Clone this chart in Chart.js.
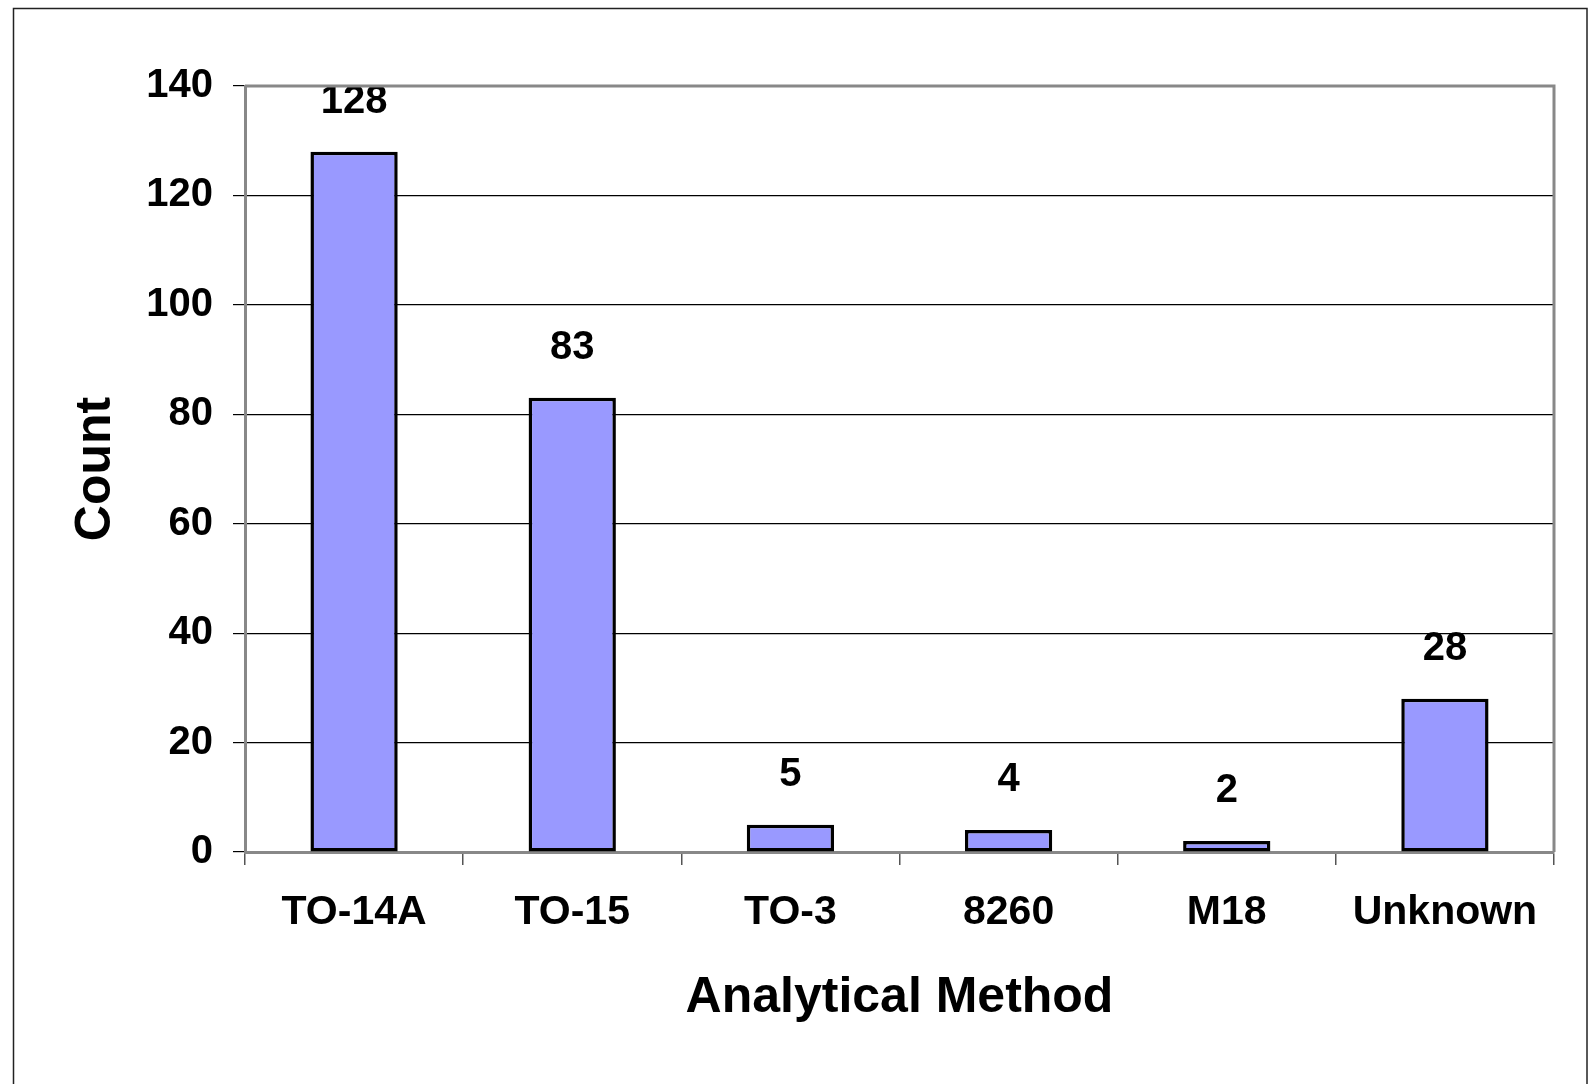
<!DOCTYPE html>
<html>
<head>
<meta charset="utf-8">
<script src="https://cdn.jsdelivr.net/npm/chart.js@4"></script>
<style>
  body { margin: 0; background: #fff; }
  canvas { display: block; }
</style>
</head>
<body>
<canvas id="methods" width="1588" height="1084"></canvas>
<script>
var methods = ["TO-14A", "TO-15", "TO-3", "8260", "M18", "Unknown"];
var counts = [128, 83, 5, 4, 2, 28];
var yTicks = [0, 20, 40, 60, 80, 100, 120, 140];

var FONT = "'Liberation Sans', Arial, sans-serif";

// value labels above each bar
var barLabels = {
  id: "barLabels",
  afterDatasetsDraw: function (chart) {
    var c = chart.ctx;
    var meta = chart.getDatasetMeta(0);
    c.save();
    c.font = "bold 40px " + FONT;
    c.fillStyle = "#000";
    c.textAlign = "center";
    c.textBaseline = "middle";
    meta.data.forEach(function (bar, i) {
      c.fillText(String(counts[i]), bar.x, bar.y - 50);
    });
    c.restore();
  }
};

// gray top/right plot border and outer frame
var frame = {
  id: "frame",
  afterDraw: function (chart) {
    var c = chart.ctx;
    var a = chart.chartArea;
    c.save();
    c.strokeStyle = "#888";
    c.lineWidth = 3;
    c.beginPath();
    c.moveTo(a.left, a.top);
    c.lineTo(a.right, a.top);
    c.lineTo(a.right, a.bottom);
    c.stroke();
    c.strokeStyle = "#222";
    c.lineWidth = 1.5;
    c.strokeRect(13.5, 8.5, 1573.5, 1090);
    c.restore();
  }
};

new Chart(document.getElementById("methods"), {
  type: "bar",
  data: {
    labels: methods,
    datasets: [{
      data: counts,
      backgroundColor: "#9999FF",
      borderColor: "#000",
      borderWidth: 3.5,
      borderSkipped: false,
      categoryPercentage: 1.0,
      barPercentage: 0.4
    }]
  },
  options: {
    responsive: false,
    animation: false,
    layout: { padding: { top: 86, right: 34, left: 0, bottom: 0 } },
    plugins: {
      legend: { display: false },
      tooltip: { enabled: false }
    },
    scales: {
      x: {
        offset: true,
        afterFit: function (scale) { scale.height = 232; },
        grid: {
          offset: true,
          drawOnChartArea: false,
          drawTicks: true,
          tickLength: 13,
          color: "#555",
          lineWidth: 1.5
        },
        border: { color: "#888", width: 3 },
        ticks: {
          color: "#000",
          padding: 23,
          maxRotation: 0,
          font: { family: FONT, size: 41, weight: "bold" }
        },
        title: {
          display: true,
          text: "Analytical Method",
          color: "#000",
          padding: { top: 0, bottom: 56 },
          font: { family: FONT, size: 50, weight: "bold" }
        }
      },
      y: {
        min: 0,
        max: 140,
        afterFit: function (scale) { scale.width = 245; },
        afterBuildTicks: function (scale) {
          scale.ticks = yTicks.map(function (v) { return { value: v }; });
        },
        grid: {
          color: "#000",
          lineWidth: 1.2,
          tickLength: 12
        },
        border: { color: "#888", width: 3 },
        ticks: {
          color: "#000",
          padding: 20,
          font: { family: FONT, size: 40, weight: "bold" }
        },
        title: {
          display: true,
          text: "Count",
          color: "#000",
          padding: { top: 66, bottom: 0 },
          font: { family: FONT, size: 50, weight: "bold" }
        }
      }
    }
  },
  plugins: [barLabels, frame]
});
</script>
</body>
</html>
